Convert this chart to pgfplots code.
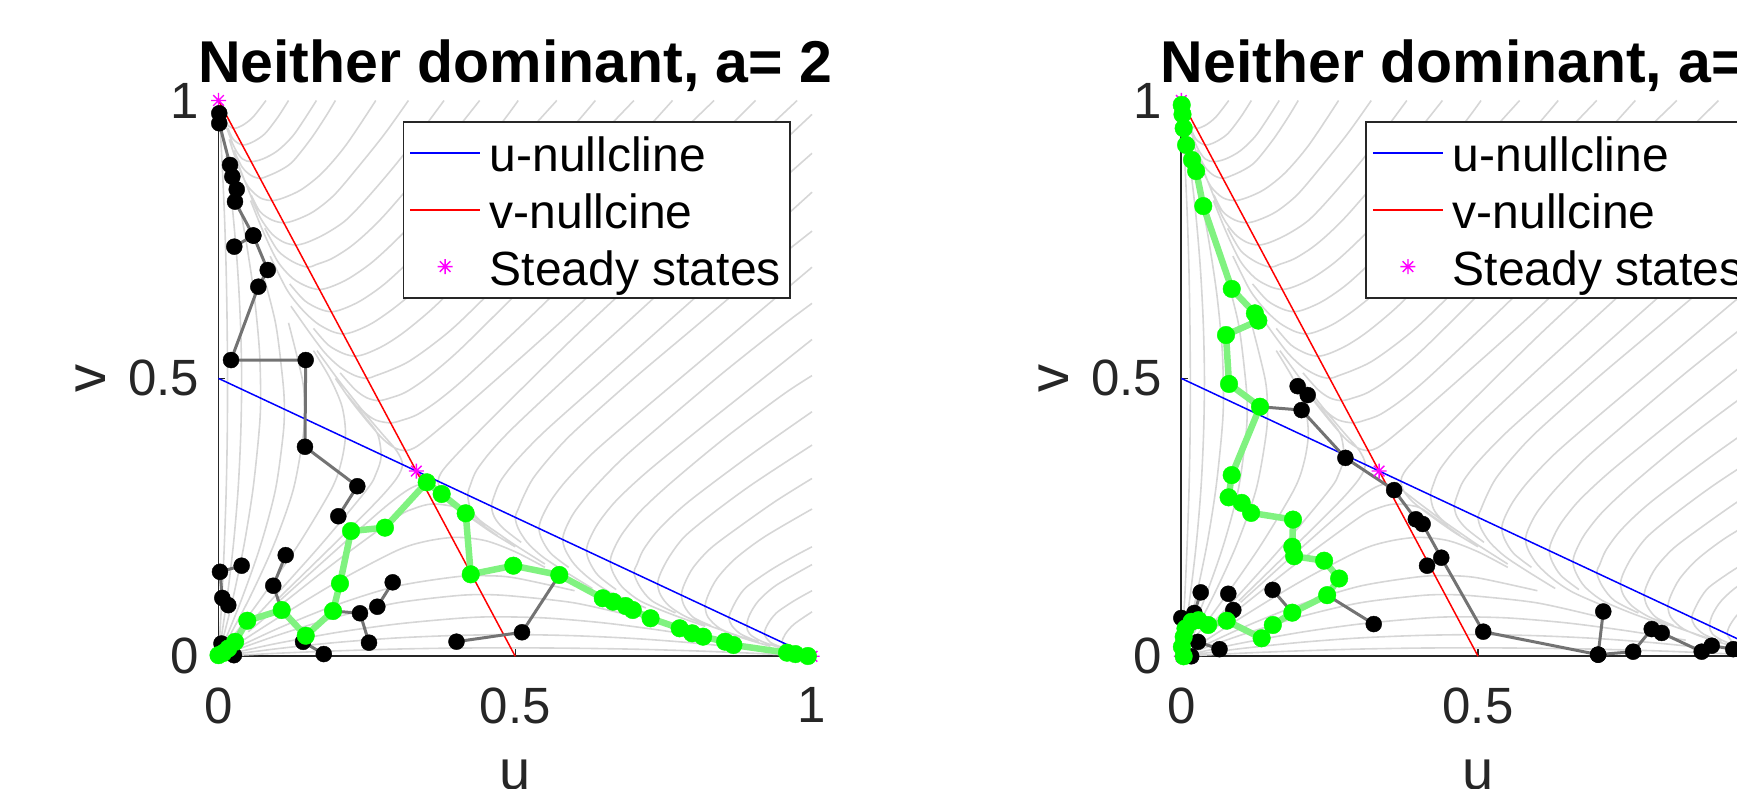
\documentclass[border=0pt]{standalone}
\usepackage{fontspec}
\setmainfont{Liberation Sans}
\usepackage{pgfplots}
\usepackage{pgfplotstable}
\pgfplotsset{compat=1.18}
\definecolor{axgray}{rgb}{0.15,0.15,0.15}
\definecolor{stgray}{rgb}{0.84,0.84,0.84}
\definecolor{trgray}{rgb}{0.45,0.45,0.45}
\definecolor{grline}{rgb}{0.5,0.95,0.5}
\definecolor{mag}{rgb}{1,0,1}

\pgfdeclareplotmark{mstar}{%
  \pgfpathmoveto{\pgfqpoint{-\pgfplotmarksize}{0pt}}%
  \pgfpathlineto{\pgfqpoint{\pgfplotmarksize}{0pt}}%
  \pgfpathmoveto{\pgfqpoint{0pt}{-\pgfplotmarksize}}%
  \pgfpathlineto{\pgfqpoint{0pt}{\pgfplotmarksize}}%
  \pgfpathmoveto{\pgfqpoint{-0.707\pgfplotmarksize}{-0.707\pgfplotmarksize}}%
  \pgfpathlineto{\pgfqpoint{0.707\pgfplotmarksize}{0.707\pgfplotmarksize}}%
  \pgfpathmoveto{\pgfqpoint{-0.707\pgfplotmarksize}{0.707\pgfplotmarksize}}%
  \pgfpathlineto{\pgfqpoint{0.707\pgfplotmarksize}{-0.707\pgfplotmarksize}}%
  \pgfusepathqstroke
}

% streamlines below the diagonal (the ones above are the same with u and v swapped)
\pgfplotstableread{
u v
1.000 0.975
0.900 0.875
0.800 0.775
0.700 0.675
0.600 0.575
0.500 0.470
0.430 0.395
0.390 0.350
0.375 0.330
0.370 0.315
0.375 0.297
0.390 0.278
0.420 0.253
0.460 0.223
0.500 0.197
nan nan
1.000 0.905
0.900 0.810
0.800 0.710
0.700 0.612
0.600 0.515
0.500 0.415
0.460 0.370
0.435 0.335
0.425 0.310
0.420 0.290
0.425 0.265
0.440 0.245
0.470 0.222
0.500 0.200
0.550 0.166
nan nan
1.000 0.835
0.850 0.690
0.750 0.595
0.650 0.500
0.550 0.405
0.500 0.350
0.475 0.315
0.465 0.290
0.460 0.270
0.465 0.250
0.480 0.230
0.510 0.205
nan nan
1.000 0.765
0.900 0.680
0.800 0.590
0.700 0.500
0.600 0.405
0.560 0.360
0.530 0.320
0.515 0.290
0.505 0.265
0.500 0.250
0.505 0.230
0.520 0.205
0.545 0.180
0.580 0.155
0.630 0.122
nan nan
1.000 0.700
0.900 0.610
0.800 0.520
0.700 0.430
0.630 0.365
0.585 0.315
0.560 0.280
0.545 0.250
0.540 0.230
0.545 0.210
0.560 0.185
0.590 0.160
nan nan
1.000 0.635
0.950 0.595
0.850 0.510
0.750 0.420
0.680 0.355
0.630 0.300
0.600 0.260
0.585 0.230
0.580 0.210
0.585 0.190
0.600 0.165
0.625 0.140
0.660 0.115
0.720 0.087
nan nan
1.000 0.570
0.900 0.485
0.800 0.400
0.720 0.330
0.670 0.280
0.640 0.240
0.625 0.210
0.620 0.190
0.625 0.170
0.640 0.145
0.670 0.120
nan nan
1.000 0.505
0.950 0.470
0.850 0.390
0.760 0.310
0.710 0.260
0.680 0.220
0.665 0.190
0.660 0.170
0.665 0.150
0.680 0.125
0.710 0.100
0.760 0.077
0.820 0.054
nan nan
1.000 0.440
0.900 0.365
0.800 0.285
0.760 0.248
0.735 0.220
0.715 0.190
0.705 0.165
0.700 0.150
0.710 0.125
0.730 0.100
0.770 0.078
nan nan
1.000 0.380
0.900 0.310
0.830 0.255
0.785 0.215
0.760 0.180
0.745 0.150
0.740 0.130
0.745 0.110
0.760 0.090
0.790 0.070
0.840 0.050
0.900 0.028
nan nan
1.000 0.320
0.940 0.280
0.880 0.235
0.830 0.195
0.800 0.160
0.785 0.130
0.780 0.110
0.785 0.090
0.800 0.070
0.830 0.055
nan nan
1.000 0.265
0.920 0.215
0.870 0.175
0.840 0.140
0.825 0.110
0.820 0.090
0.825 0.070
0.845 0.050
0.880 0.034
0.930 0.018
nan nan
1.000 0.197
0.970 0.180
0.930 0.155
0.890 0.125
0.875 0.105
0.865 0.085
0.860 0.070
0.865 0.055
0.880 0.040
0.910 0.026
nan nan
1.000 0.165
0.940 0.128
0.910 0.100
0.895 0.075
0.890 0.055
0.895 0.040
0.915 0.027
0.950 0.014
0.980 0.005
nan nan
1.000 0.118
0.970 0.100
0.940 0.078
0.925 0.057
0.920 0.040
0.930 0.025
0.950 0.016
nan nan
1.000 0.080
0.970 0.058
0.955 0.040
0.950 0.025
0.960 0.012
0.985 0.004
nan nan
0.000 0.000
0.100 0.0055
0.200 0.0098
0.300 0.0130
0.400 0.0148
0.500 0.0152
0.600 0.0145
0.700 0.0128
0.800 0.0098
0.900 0.0055
0.970 0.0018
nan nan
0.000 0.000
0.100 0.0138
0.200 0.0250
0.300 0.0330
0.400 0.0375
0.500 0.0390
0.600 0.0370
0.700 0.0320
0.800 0.0240
0.900 0.0130
nan nan
0.000 0.000
0.050 0.012
0.100 0.0235
0.200 0.043
0.300 0.058
0.400 0.068
0.460 0.071
0.550 0.069
0.650 0.060
0.750 0.046
0.850 0.029
nan nan
0.000 0.000
0.100 0.038
0.200 0.071
0.300 0.096
0.400 0.109
0.450 0.111
0.500 0.108
0.600 0.096
0.700 0.072
nan nan
0.000 0.000
0.100 0.050
0.200 0.093
0.300 0.126
0.400 0.143
0.450 0.145
0.500 0.141
0.600 0.118
nan nan
0.000 0.000
0.100 0.069
0.200 0.134
0.300 0.190
0.350 0.207
0.400 0.214
0.450 0.208
0.500 0.188
0.550 0.160
nan nan
0.050 0.044
0.100 0.088
0.200 0.172
0.300 0.250
0.330 0.266
0.360 0.274
0.400 0.268
0.430 0.247
0.470 0.217
nan nan
0.100 0.097
0.200 0.193
0.280 0.268
0.320 0.300
0.345 0.310
0.370 0.300
0.400 0.276
0.450 0.236
}\streams

\pgfplotsset{
  panel/.style={
    scale only axis, width=593.5pt, height=555.8pt, anchor=south west,
    xmin=0, xmax=1, ymin=0, ymax=1, clip=false,
    unbounded coords=jump,
    axis x line*=bottom, axis y line*=left,
    axis line style={draw=axgray, line width=1.8pt},
    xtick={0,0.5,1}, ytick={0,0.5,1},
    tick align=inside, major tick length=7pt,
    major tick style={draw=axgray, line width=1.5pt},
    /pgf/number format/assume math mode=true,
    ticklabel style={font=\fontsize{51}{55}\selectfont, text=axgray, inner sep=0pt},
    xticklabel style={anchor=north, yshift=-31pt},
    yticklabel style={anchor=east, xshift=-19pt},
    title style={font=\bfseries\fontsize{59}{62}\selectfont, at={(axis description cs:0.5,1.0215)}, anchor=base, inner sep=0pt},
    xlabel style={font=\fontsize{56}{60}\selectfont, text=axgray, at={(axis description cs:0.5,-0.2402)}, anchor=base, inner sep=0pt},
    ylabel style={font=\fontsize{56}{60}\selectfont, text=axgray, at={(axis description cs:-0.2148,0.5)}, anchor=center, inner sep=0pt},
    xlabel={u}, ylabel={v},
    legend image code/.code={\draw[mark repeat=2,mark phase=2,#1] plot coordinates {(0pt,0pt) (35pt,0pt) (70pt,0pt)};},
    legend cell align=left,
    legend style={at={(axis description cs:0.964,0.9635)}, anchor=north east,
      draw=axgray, line width=1.8pt, fill=white,
      font=\fontsize{48}{51}\selectfont,
      inner xsep=6pt, inner ysep=5pt, row sep=3.7pt, column sep=6pt,
      nodes={inner sep=3pt, text height=42pt, text depth=5pt}},
  },
  stream/.style={stgray, line width=1.6pt, smooth, no markers, forget plot},
  blk/.style={trgray, line width=3pt, mark=*, mark size=8pt, mark options={fill=black, draw=black, line width=0.4pt}, forget plot},
  grn/.style={grline, line width=6.5pt, mark=*, mark size=8.8pt, mark options={fill=green, draw=green, line width=0.4pt}, forget plot},
  ncu/.style={blue, line width=1.5pt, no markers},
  ncv/.style={red, line width=1.5pt, no markers},
  sst/.style={only marks, mark=mstar, mark size=7.5pt, mag, line width=1.4pt, mark options={line width=1.4pt}},
}

\begin{document}
\begin{tikzpicture}
\useasboundingbox (0,0) rectangle (1737pt,789pt);
\clip (0,0) rectangle (1737pt,789pt);

% ---------------- left panel ----------------
\begin{axis}[panel, at={(218.5pt,132.7pt)}, title={Neither dominant, a= 2}]
\addplot[stream] table[x=u, y=v] {\streams};
\addplot[stream] table[x=v, y=u] {\streams};
\addplot[ncu] coordinates {(0,0.5) (1,0)};
\addlegendentry{u-nullcline}
\addplot[ncv] coordinates {(0,1) (0.5,0)};
\addlegendentry{v-nullcine}
\addplot[sst] coordinates {(0,0) (1,0) (0,1) (0.3333,0.3333)};
\addlegendentry{Steady states}
% black trajectories
\addplot[blk] coordinates {(0.0013,0.977) (0.0013,0.959) (0.0194,0.884) (0.0233,0.863) (0.0307,0.840) (0.0278,0.818) (0.0586,0.757) (0.0266,0.737) (0.0586,0.757) (0.0829,0.695) (0.0671,0.665) (0.0211,0.533) (0.1469,0.533) (0.1457,0.377) (0.2339,0.306) (0.2019,0.252)};
\addplot[blk] coordinates {(0.039,0.163) (0.0025,0.152) (0.0064,0.105) (0.0165,0.092)};
\addplot[blk] coordinates {(0.1132,0.182) (0.0923,0.127) (0.1065,0.0833)};
\addplot[blk] coordinates {(0.1425,0.026) (0.1774,0.004)};
\addplot[blk] coordinates {(0.193,0.0815) (0.2384,0.0774) (0.2536,0.0245)};
\addplot[blk] coordinates {(0.2676,0.0892) (0.2935,0.1331)};
\addplot[blk] coordinates {(0.401,0.0263) (0.5114,0.0432) (0.5742,0.1463)};
\addplot[blk] coordinates {(0.005,0.023) (0.012,0.008) (0.026,0.002)};
% green trajectory
\addplot[grn] coordinates {(0.000,0.002) (0.008,0.006) (0.0165,0.014) (0.028,0.026) (0.0485,0.064) (0.1065,0.0833) (0.147,0.037) (0.193,0.0815) (0.2047,0.131) (0.2233,0.2254) (0.2805,0.2314) (0.3508,0.3131) (0.376,0.292) (0.4165,0.2573) (0.425,0.1475) (0.4967,0.163) (0.5742,0.1463) (0.6475,0.1044) (0.665,0.0982) (0.686,0.0905) (0.698,0.0833) (0.728,0.0684) (0.777,0.0504) (0.798,0.0414) (0.8165,0.0353) (0.8536,0.0263) (0.8676,0.0203) (0.958,0.0065) (0.972,0.004) (0.993,0.0005)};
\end{axis}

% ---------------- right panel ----------------
\begin{axis}[panel, at={(1181.3pt,132.7pt)}, title={Neither dominant, a= 2}]
\addplot[stream] table[x=u, y=v] {\streams};
\addplot[stream] table[x=v, y=u] {\streams};
\addplot[ncu] coordinates {(0,0.5) (1,0)};
\addlegendentry{u-nullcline}
\addplot[ncv] coordinates {(0,1) (0.5,0)};
\addlegendentry{v-nullcine}
\addplot[sst] coordinates {(0,0) (1,0) (0,1) (0.3333,0.3333)};
\addlegendentry{Steady states}
% black trajectories
\addplot[blk] coordinates {(0.1326,0.449) (0.2027,0.443) (0.2765,0.357) (0.3586,0.299) (0.3951,0.2465) (0.4066,0.238) (0.438,0.1774) (0.5087,0.0443) (0.7023,0.003) (0.7613,0.0083) (0.7926,0.049) (0.8094,0.042) (0.8768,0.0083) (0.8937,0.019) (0.930,0.0128) (0.965,0.006) (0.99,0.002)};
\addplot[blk] coordinates {(0.196,0.486) (0.213,0.470)};
\addplot[blk] coordinates {(0.4141,0.163)};
\addplot[blk] coordinates {(0.711,0.0806) (0.7023,0.003)};
\addplot[blk] coordinates {(0.0327,0.115) (0.022,0.078)};
\addplot[blk] coordinates {(0.0,0.069)};
\addplot[blk] coordinates {(0.0792,0.1125) (0.0876,0.0833)};
\addplot[blk] coordinates {(0.1538,0.1195) (0.187,0.0785)};
\addplot[blk] coordinates {(0.2457,0.110) (0.3242,0.058)};
\addplot[blk] coordinates {(0.028,0.026) (0.0644,0.0128)};
\addplot[blk] coordinates {(0.0167,0.0)};
% green trajectory
\addplot[grn] coordinates {(0.0007,0.992) (0.002,0.975) (0.004,0.950) (0.008,0.920) (0.018,0.893) (0.025,0.873) (0.037,0.810) (0.085,0.661) (0.124,0.617) (0.1298,0.604) (0.0753,0.578) (0.0804,0.490) (0.1326,0.449) (0.0849,0.326) (0.0797,0.286) (0.1018,0.276) (0.1176,0.258) (0.1882,0.246) (0.187,0.197) (0.1901,0.180) (0.2406,0.172) (0.2659,0.140) (0.2457,0.110) (0.187,0.0785) (0.1542,0.0563) (0.1354,0.0324) (0.0765,0.064) (0.0452,0.0563) (0.029,0.065) (0.017,0.062) (0.007,0.050) (0.004,0.035) (0.001,0.017) (0.004,0.0)};
\end{axis}
\end{tikzpicture}
\end{document}
